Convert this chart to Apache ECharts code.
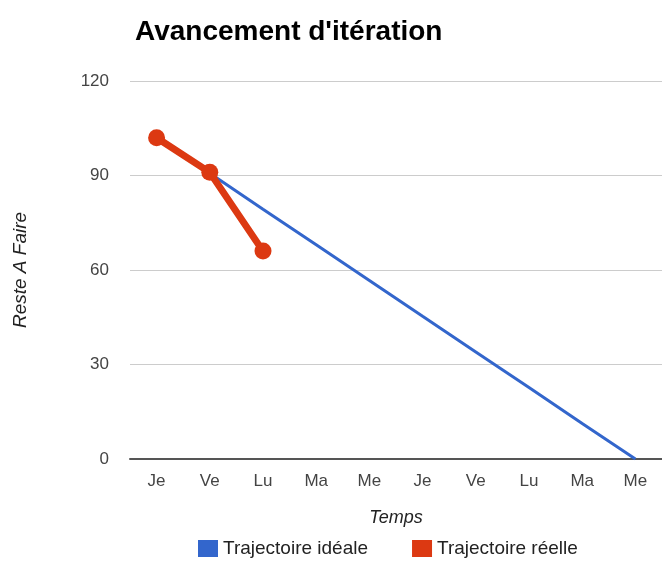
<!DOCTYPE html>
<html>
<head>
<meta charset="utf-8">
<script src="https://cdn.jsdelivr.net/npm/echarts@6/dist/echarts.min.js"></script>
<style>html,body{margin:0;padding:0;background:#fff;}#c{width:662px;height:563px;}</style>
</head>
<body>
<div id="c"></div>
<script>
var categories = ['Je', 'Ve', 'Lu', 'Ma', 'Me', 'Je', 'Ve', 'Lu', 'Ma', 'Me'];
var ideal = [102, 90.7, 79.3, 68, 56.7, 45.3, 34, 22.7, 11.3, 0];
var actual = [102, 91, 66, null, null, null, null, null, null, null];
var yTicks = [0, 30, 60, 90, 120];

var chart = echarts.init(document.getElementById('c'));
chart.setOption({
  animation: false,
  backgroundColor: '#fff',
  title: {
    text: "Avancement d'itération",
    left: 130, top: 13,
    textStyle: { fontFamily: 'Liberation Sans, Arial', fontWeight: 'bold', fontSize: 28, color: '#000' }
  },
  legend: {
    bottom: 0, left: 193,
    itemWidth: 20, itemHeight: 17, itemGap: 44,
    icon: 'rect',
    textStyle: { fontFamily: 'Liberation Sans, Arial', fontSize: 19, color: '#222' },
    data: ['Trajectoire idéale', 'Trajectoire réelle']
  },
  grid: { left: 130, right: 0, top: 81, bottom: 104 },
  xAxis: {
    type: 'category',
    data: categories,
    boundaryGap: true,
    name: 'Temps', nameLocation: 'middle', nameGap: 50,
    nameTextStyle: { fontFamily: 'Liberation Sans, Arial', fontStyle: 'italic', fontSize: 18, color: '#222' },
    axisLine: { lineStyle: { color: '#555', width: 2 } },
    axisTick: { show: false },
    axisLabel: { margin: 14, fontFamily: 'Liberation Sans, Arial', fontSize: 17, color: '#444' }
  },
  yAxis: {
    type: 'value', min: 0, max: 120, interval: 30,
    name: 'Reste A Faire', nameLocation: 'middle', nameGap: 100,
    nameTextStyle: { fontFamily: 'Liberation Sans, Arial', fontStyle: 'italic', fontSize: 19, color: '#222' },
    axisLine: { show: false },
    axisTick: { show: false },
    axisLabel: { margin: 21, fontFamily: 'Liberation Sans, Arial', fontSize: 17, color: '#444',
      formatter: function (v) { return yTicks.indexOf(v) >= 0 ? String(v) : ''; } },
    splitLine: { lineStyle: { color: '#cccccc', width: 1 } }
  },
  series: [
    {
      name: 'Trajectoire idéale', type: 'line', data: ideal,
      color: '#3366cc', showSymbol: false, symbol: 'none',
      lineStyle: { width: 3, color: '#3366cc' }, z: 2
    },
    {
      name: 'Trajectoire réelle', type: 'line', data: actual,
      color: '#dc3912', symbol: 'circle', symbolSize: 17, showSymbol: true,
      lineStyle: { width: 7, color: '#dc3912' },
      itemStyle: { color: '#dc3912' }, z: 3
    }
  ]
});
</script>
</body>
</html>
